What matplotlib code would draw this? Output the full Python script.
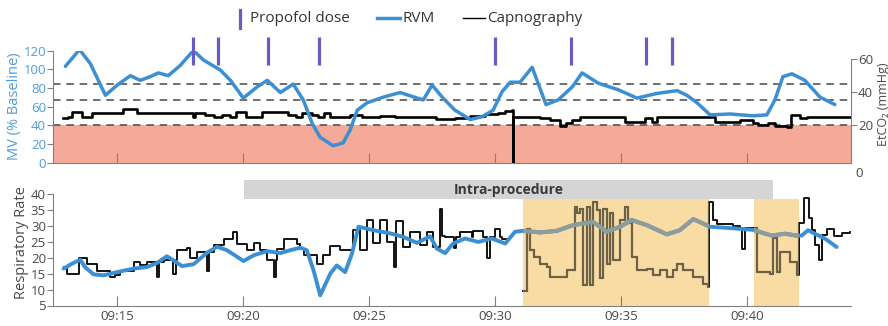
import matplotlib
matplotlib.use("Agg")
import matplotlib.pyplot as plt
from matplotlib.lines import Line2D
from matplotlib.patches import Rectangle

plt.rcParams['font.family'] = ['Open Sans', 'DejaVu Sans']

# ---- time axis (minutes after 09:00) ----
tick_minutes = [15, 20, 25, 30, 35, 40]
tick_labels = ["09:15", "09:20", "09:25", "09:30", "09:35", "09:40"]
time_range = (12.46, 44.12)

# ---- propofol doses ----
propofol_minutes = [18, 19, 21, 23, 30, 33, 36, 37]

# ---- RVM minute ventilation (% of baseline) ----
mv_t = [12.95, 13.51, 13.94, 14.54, 15.01, 15.53, 15.92, 16.32, 16.64, 17.03,
        17.51, 18.03, 18.42, 19.10, 19.50, 20.01, 20.56, 20.96, 21.48, 21.99,
        22.39, 22.74, 23.06, 23.57, 23.97, 24.25, 24.53, 24.92, 25.56, 26.23,
        26.91, 27.15, 27.50, 27.90, 28.41, 29.01, 29.48, 29.92, 30.28, 30.60,
        30.99, 31.47, 32.02, 32.50, 33.06, 33.45, 34.09, 34.88, 35.63, 36.42,
        37.22, 37.61, 38.01, 38.53, 39.32, 40.23, 40.78, 41.10, 41.42, 41.78,
        42.29, 42.89, 43.48]
mv_pct = [103, 121, 106, 72, 83, 93, 88, 92, 96, 93,
          104, 120, 110, 99, 88, 69, 81, 88, 75, 84,
          67, 42, 27, 18, 21, 35, 56, 64, 70, 75,
          69, 67, 83, 70, 56, 46, 49, 56, 76, 86,
          86, 102, 62, 67, 81, 96, 85, 78, 69, 74,
          77, 72, 64, 51, 52, 50, 51, 67, 92, 95,
          88, 70, 62]

# ---- capnography end-tidal CO2 (mmHg) ----
etco2_t = [12.87, 13.07, 13.23, 13.63, 14.02, 15.25, 15.80, 18.03, 18.10, 18.50,
           18.86, 19.18, 19.50, 19.73, 20.13, 20.76, 21.60, 21.79, 22.11, 22.35,
           22.75, 22.98, 23.22, 23.46, 24.25, 24.73, 25.44, 26.04, 27.66, 28.41,
           29.01, 29.60, 30.12, 30.40, 30.68, 30.700, 30.712, 31.79, 32.18, 32.58,
           32.82, 33.06, 33.37, 35.16, 35.95, 36.23, 36.42, 38.72, 39.71, 40.23,
           40.43, 40.83, 41.11, 41.58, 41.74, 42.10, 42.37, 44.12]
etco2 = [24, 25, 28, 25, 27, 29.5, 27, 25, 27, 26,
         25, 26, 25, 28, 25, 28, 28, 26, 25, 27,
         26, 25, 27, 25, 26, 25, 25.5, 25, 23.5, 24.5,
         25.5, 26.5, 27.5, 28.5, 29, -3, 25, 24, 23, 19.5,
         21, 23, 25, 22, 24, 22, 25, 22, 23, 21,
         20, 21, 19.5, 18.5, 26, 24, 25, 25]

# ---- respiratory rate from RVM (breaths/min) ----
rvm_rr_t = [12.88, 13.22, 13.54, 13.74, 14.07, 14.47, 15.00, 15.65, 16.19, 16.59,
            16.98, 17.24, 17.58, 18.04, 18.57, 18.97, 19.36, 20.02, 20.42, 20.95,
            21.48, 21.87, 22.27, 22.53, 22.80, 23.06, 23.46, 23.72, 24.05, 24.32,
            24.58, 25.17, 25.84, 26.36, 26.90, 27.42, 27.69, 28.02, 28.33, 28.81,
            29.33, 29.87, 30.40, 30.79, 31.11, 31.79, 32.45, 33.09, 33.89, 34.43,
            34.96, 35.42, 36.02, 36.81, 37.33, 37.86, 38.39, 38.52, 39.44, 40.23,
            40.97, 41.50, 41.96, 42.16, 42.42, 42.68, 43.08, 43.55]
rvm_rr = [16.6, 18.2, 19.4, 17, 14.8, 14.5, 15.5, 16.6, 17.1, 18.4,
          20.5, 19.2, 17.4, 18, 21.6, 23.5, 22.4, 19, 20.8, 22.1,
          21.5, 22.4, 23.2, 22.4, 16, 8.2, 15, 17.6, 15.5, 21.3,
          29.8, 28.7, 27.7, 26.6, 24.7, 26.8, 22.9, 21.5, 24.5, 26.1,
          25, 26.1, 24.5, 28.2, 28.5, 28, 28.5, 30.3, 31.3, 28.2,
          29.8, 31.9, 30.3, 27.4, 28.7, 32.2, 30.3, 29.8, 29.3, 28.8,
          27, 27.6, 27, 27, 28.7, 27.6, 26.1, 23.4]

# ---- respiratory rate from capnography (breaths/min) ----
cap_rr_t = [12.88, 13.01, 13.48, 13.81, 14.21, 14.73, 14.93, 15.13, 15.66, 15.92,
            16.19, 16.59, 16.65, 16.85, 17.24, 17.34, 17.38, 17.78, 17.91, 18.17,
            18.57, 18.66, 18.83, 19.23, 19.62, 19.76, 20.15, 20.42, 20.68, 20.95,
            21.21, 21.29, 21.34, 21.61, 22.14, 22.27, 22.40, 22.93, 23.19, 23.46,
            23.85, 24.38, 24.65, 24.91, 25.17, 25.44, 25.71, 25.97, 26.07, 26.36,
            26.63, 27.03, 27.29, 27.55, 27.82, 27.89, 28.02, 28.35, 28.45, 28.61,
            29.08, 29.14, 29.51, 29.67, 29.80, 30.00, 30.20, 30.27, 30.60,
            31.11, 31.27, 31.40, 31.53, 31.79, 32.05, 32.18, 32.84, 33.17, 33.24,
            33.37, 33.50, 33.64, 33.77, 33.90, 34.03, 34.16, 34.30, 34.43, 34.56,
            34.69, 34.96, 35.16, 35.29, 35.42, 35.62, 36.02, 36.28, 36.55, 36.81,
            37.07, 37.21, 37.47, 37.86, 38.26, 38.46, 38.50, 38.66, 38.79, 39.45,
            39.72, 39.78, 39.91, 40.38, 40.91, 41.04, 41.18, 41.31, 41.71, 41.97,
            42.04, 42.24, 42.44, 42.57, 42.70, 42.84, 42.97, 43.17, 43.43, 43.76,
            44.09]
cap_rr = [17, 15, 19.8, 18.2, 16, 14, 14.5, 16, 18.8, 17.6,
          18.8, 14, 18.8, 19.2, 15, 19.2, 22.4, 23.2, 19.8, 21.9,
          16, 21.9, 24, 25.9, 28.2, 24.4, 22.4, 24.8, 22.4, 19.2,
          14, 19.2, 22.9, 25.9, 24.4, 22.9, 20.8, 18.2, 20.8, 23.8,
          22.4, 28.8, 22.4, 31.9, 24.8, 31.9, 25.1, 17, 31.5, 23.4,
          28.2, 24, 28.2, 23.4, 35.5, 27, 26.6, 23, 26.6, 28.2,
          26.6, 28.5, 26.6, 20, 26.6, 29, 26.6, 26, float('nan'),
          9.7, 29, 22.4, 20.3, 18.2, 17.1, 14, 16.1, 36.1, 34.1,
          35.5, 11.5, 36.1, 11.5, 37.6, 35, 13.5, 35.5, 18.2, 34,
          19.2, 32, 36, 31, 20.3, 16.1, 16.6, 14.5, 16.1, 14,
          16.1, 18.2, 16.1, 14, 11.8, 10.8, 37.6, 31.9, 30.5, 30,
          29.5, 22.9, 29.5, 15.5, 15, 26.1, 15.5, 21.8, 18.6, 14.5,
          31, 38.7, 32.4, 28.7, 24, 19.2, 27.1, 29.2, 27, 27.7,
          28.2]

procedure_window = (20.02, 41.03)
shaded_periods = [(31.11, 38.49), (40.28, 42.06)]

# ---- thresholds ----
mv_low_pct = 40
etco2_guides = [45, 35, 20]

# ---- colours ----
BLUE = "#3b8fd2"
BLUE_TXT = "#4f9dd8"
PURPLE = "#6a5ac4"
SALMON = "#f5a999"
ORANGE = "#f8dca4"
BAR_GRAY = "#d5d5d5"
AXIS_GRAY = "#808080"
TXT = "#4a4a4a"
CAP_IN = "#6d6248"
RVM_IN = "#8d9d9b"

fig = plt.figure(figsize=(8.88, 3.26), dpi=100)
W, H = 888.0, 326.0
left, right = 53 / W, 851 / W

ax_mv = fig.add_axes([left, 1 - 162.5 / H, right - left, 112 / H])
ax_co2 = ax_mv.twinx()
ax_rr = fig.add_axes([left, 1 - 305.5 / H, right - left, 125.5 / H])

# ---------------- top panel ----------------
ax_co2.set_ylim(-2.73, 65.15)
ax_co2.axhspan(-10, 20, color=SALMON, lw=0, zorder=0)
for g in etco2_guides:
    ax_co2.axhline(g, color="#555555", lw=1.2, ls=(0, (4.5, 3.5)), zorder=1)
ax_co2.plot(etco2_t, etco2, drawstyle="steps-post", color="black", lw=1.9,
            zorder=2)
for s in ["left", "top", "bottom"]:
    ax_co2.spines[s].set_visible(False)
ax_co2.spines["right"].set_bounds(-2.73, 60)
ax_co2.spines["right"].set_color(AXIS_GRAY)
ax_co2.set_yticks([20, 40, 60])
ax_co2.tick_params(axis="y", direction="out", length=4, width=0.8,
                   colors=AXIS_GRAY, labelcolor=TXT, labelsize=9.5, pad=1)
ax_co2.text(1.006, -0.095, "0", transform=ax_co2.transAxes, ha="left",
            va="center", fontsize=9.5, color=TXT)
ax_co2.set_ylabel("EtCO₂ (mmHg)", color=TXT, fontsize=9)
ax_co2.yaxis.set_label_coords(1.032, 0.52)

ax_mv.set_zorder(ax_co2.get_zorder() + 1)
ax_mv.patch.set_visible(False)
ax_mv.set_xlim(*time_range)
ax_mv.set_ylim(0, 120)
ax_mv.plot(mv_t, mv_pct, color=BLUE, lw=2.5, solid_joinstyle="round",
           solid_capstyle="round", zorder=3)
ax_mv.vlines(propofol_minutes, 104.5, 135, colors=PURPLE, lw=2.3,
             clip_on=False, zorder=4)
ax_mv.spines["top"].set_visible(False)
ax_mv.spines["right"].set_visible(False)
ax_mv.spines["left"].set_color(AXIS_GRAY)
ax_mv.spines["bottom"].set_color(AXIS_GRAY)
ax_mv.set_yticks(range(0, 121, 20))
ax_mv.tick_params(axis="y", direction="out", length=4, width=0.8,
                  colors=AXIS_GRAY, labelcolor=BLUE_TXT, labelsize=9.5, pad=1)
ax_mv.set_xticks(tick_minutes)
ax_mv.set_xticklabels([])
ax_mv.tick_params(axis="x", direction="in", length=7, width=0.8,
                  colors=AXIS_GRAY)
ax_mv.set_ylabel("MV (% Baseline)", color=BLUE_TXT, fontsize=10.5, labelpad=1)

# ---------------- bottom panel ----------------
ax_rr.set_xlim(*time_range)
ax_rr.set_ylim(5, 44.5)
ax_rr.broken_barh([(procedure_window[0], procedure_window[1] - procedure_window[0])],
                  (38.5, 6), facecolors=BAR_GRAY, lw=0, zorder=1)
ax_rr.text(sum(procedure_window) / 2, 41.5, "Intra-procedure", ha="center",
           va="center", fontsize=10, fontweight="bold", color="#3a3a3a", zorder=2)

shade_patches = []
for a, b in shaded_periods:
    r = Rectangle((a, 5), b - a, 33.5, facecolor=ORANGE, lw=0, zorder=0)
    ax_rr.add_patch(r)
    shade_patches.append(r)

ax_rr.plot(cap_rr_t, cap_rr, drawstyle="steps-post", color="black", lw=1.3,
           zorder=3)
for r in shade_patches:
    ln, = ax_rr.plot(cap_rr_t, cap_rr, drawstyle="steps-post", color=CAP_IN,
                     lw=1.6, zorder=3.5)
    ln.set_clip_path(r)

ax_rr.plot(rvm_rr_t, rvm_rr, color=BLUE, lw=2.8, solid_joinstyle="round",
           solid_capstyle="round", zorder=4)
for r in shade_patches:
    ln, = ax_rr.plot(rvm_rr_t, rvm_rr, color=RVM_IN, lw=3.0,
                     solid_joinstyle="round", zorder=4.5)
    ln.set_clip_path(r)

ax_rr.spines["top"].set_visible(False)
ax_rr.spines["right"].set_visible(False)
ax_rr.spines["left"].set_bounds(5, 40)
ax_rr.spines["left"].set_color(AXIS_GRAY)
ax_rr.spines["bottom"].set_color(AXIS_GRAY)
ax_rr.set_yticks(range(5, 41, 5))
ax_rr.tick_params(axis="y", direction="out", length=4, width=0.8,
                  colors=AXIS_GRAY, labelcolor=TXT, labelsize=9.5, pad=1)
ax_rr.set_xticks(tick_minutes)
ax_rr.set_xticklabels(tick_labels)
ax_rr.tick_params(axis="x", direction="in", length=7, width=0.8,
                  colors=AXIS_GRAY, labelcolor=TXT, labelsize=9.5, pad=3)
ax_rr.set_ylabel("Respiratory Rate", color=TXT, fontsize=10.5, labelpad=1)

# ---------------- legend (drawn in figure pixels) ----------------
def fx(px):
    return px / W


def fy(py):
    return 1 - py / H


leg_y = fy(18)
fig.add_artist(Line2D([fx(240), fx(240)], [fy(10), fy(28)], color=PURPLE,
                      lw=2.3, transform=fig.transFigure))
fig.text(fx(250), leg_y, "Propofol dose", ha="left", va="center",
         fontsize=11, color="#333333")
fig.add_artist(Line2D([fx(377), fx(400)], [leg_y, leg_y], color=BLUE, lw=2.5,
                      transform=fig.transFigure))
fig.text(fx(402), leg_y, "RVM", ha="left", va="center", fontsize=11,
         color="#333333")
fig.add_artist(Line2D([fx(463), fx(485)], [leg_y, leg_y], color="black",
                      lw=1.0, transform=fig.transFigure))
fig.text(fx(487), leg_y, "Capnography", ha="left", va="center", fontsize=11,
         color="#333333")

fig.savefig("out.png", dpi=100)
